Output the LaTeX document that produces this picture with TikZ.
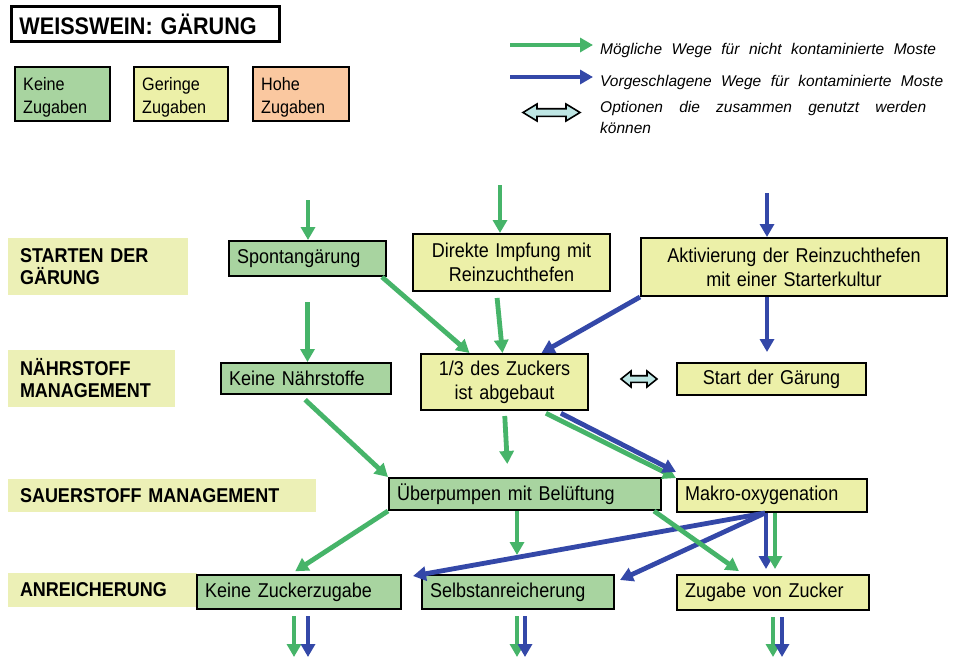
\documentclass[tikz,border=0pt]{standalone}
\usepackage{fontspec}
\setmainfont{Liberation Sans}
\newfontfamily\nfam[FakeStretch=0.9]{Liberation Sans}
\usetikzlibrary{arrows.meta}
\definecolor{arrG}{RGB}{70,180,105}
\definecolor{arrB}{RGB}{52,72,168}
\definecolor{boxG}{RGB}{168,212,160}
\definecolor{boxY}{RGB}{236,240,168}
\definecolor{labY}{RGB}{236,240,182}
\definecolor{boxP}{RGB}{250,200,160}
\definecolor{dblfill}{RGB}{190,230,228}
\newcommand\nfont{\nfam\fontsize{20}{24}\selectfont}
\newcommand\lfont{\nfam\fontsize{20}{22}\selectfont\bfseries}
\newcommand\legfont{\fontsize{15.5}{21}\selectfont\itshape\spaceskip=9.5pt plus 2pt}
\newcommand\up{\rule{0pt}{19pt}}
\tikzset{
  nbox/.style={draw=black, line width=2.4pt, inner xsep=8pt, inner ysep=0pt, font=\nfont, align=left},
  gbox/.style={nbox, fill=boxG},
  ybox/.style={nbox, fill=boxY},
  legbox/.style={draw=black, line width=2.4pt, inner xsep=8pt, inner ysep=0pt, align=left,
    font=\nfam\fontsize{18}{23}\selectfont, minimum height=53.6pt},
  lab/.style={fill=labY, inner xsep=12pt, inner ysep=0pt, font=\lfont, align=left},
  ga/.style={draw=arrG, line width=4.8pt, -{Triangle[width=14pt,length=13pt]}},
  ba/.style={draw=arrB, line width=4.8pt, -{Triangle[width=14pt,length=13pt]}},
  legt/.style={font=\legfont, inner sep=0pt},
  pics/dblarr/.style n args={4}{code={
    \draw[line width=1.6pt, fill=dblfill, line join=miter]
      (-#1,0) -- (-#1+#2,-#3) -- (-#1+#2,-#4) -- (#1-#2,-#4) -- (#1-#2,-#3) -- (#1,0)
      -- (#1-#2,#3) -- (#1-#2,#4) -- (-#1+#2,#4) -- (-#1+#2,#3) -- cycle;}}
}
\begin{document}
\begin{tikzpicture}[x=1pt,y=-1pt]
\fill[white] (0,0) rectangle (960,659);
\useasboundingbox (0,0) rectangle (960,659);

% title and legend
\node[draw=black, line width=3pt, inner xsep=8pt, inner ysep=0pt, text width=252pt, minimum height=35pt,
  font=\nfam\fontsize{24}{26}\selectfont\bfseries, align=left] (title) at (145.5,24) {WEISSWEIN: GÄRUNG};
\node[legbox, fill=boxG, text width=78.6pt] (lk) at (62.5,94) {\up Keine\\Zugaben};
\node[legbox, fill=boxY, text width=77.6pt] (lg) at (181,94) {\up Geringe\\Zugaben};
\node[legbox, fill=boxP, text width=79.6pt] (lh) at (301,94) {\up Hohe\\Zugaben};

\coordinate (lga) at (510,45); \coordinate (lgb) at (593,45);
\coordinate (lba) at (510,77); \coordinate (lbb) at (593,77);
\draw[ga] (lga) -- (lgb);
\draw[ba] (lba) -- (lbb);
\pic at (551.5,112.5) {dblarr={28.5}{14}{8.5}{3.8}};
\node[legt, anchor=base west] (lt1) at (600,54) {Mögliche Wege für nicht kontaminierte Moste};
\node[legt, anchor=base west] (lt2) at (600,86) {Vorgeschlagene Wege für kontaminierte Moste};
\node[legt, anchor=west, text width=326pt, align=justify] (lt3) at (600,117)
  {Optionen die zusammen genutzt werden\linebreak können};

% row labels
\node[lab, text width=156pt, minimum height=57pt] (l1) at (98,266.5) {STARTEN DER\\GÄRUNG};
\node[lab, text width=143pt, minimum height=57pt] (l2) at (91.5,378.5) {NÄHRSTOFF\\MANAGEMENT};
\node[lab, text width=284pt, minimum height=33pt] (l3) at (162,495.5) {SAUERSTOFF MANAGEMENT};
\node[lab, text width=165pt, minimum height=34pt] (l4) at (102.5,590) {ANREICHERUNG};

% nodes
\node[gbox, text width=140.6pt, minimum height=34.6pt] (spont) at (307.5,258.5) {Spontangärung};
\node[ybox, text width=180.6pt, minimum height=56.6pt, align=center] (direkt) at (511.5,262.5) {Direkte Impfung mit\\Reinzuchthefen};
\node[ybox, text width=289.6pt, minimum height=57.6pt, align=center] (aktiv) at (794,267) {Aktivierung der Reinzuchthefen\\mit einer Starterkultur};
\node[gbox, text width=153.6pt, minimum height=30.6pt] (nae) at (306,378.5) {Keine Nährstoffe};
\node[ybox, text width=150.6pt, minimum height=55.6pt, align=center] (drittel) at (504.5,382) {1/3 des Zuckers\\ist abgebaut};
\node[ybox, text width=172.6pt, minimum height=31.6pt, align=center] (start) at (771.5,379) {Start der Gärung};
\node[gbox, text width=255.6pt, minimum height=31.6pt] (ueber) at (525,494) {Überpumpen mit Belüftung};
\node[ybox, text width=173.6pt, minimum height=32.6pt] (makro) at (772,495.5) {Makro-oxygenation};
\node[gbox, text width=187.6pt, minimum height=33.6pt] (keinez) at (299,592) {Keine Zuckerzugabe};
\node[gbox, text width=175.6pt, minimum height=33.6pt] (selbst) at (518,592) {Selbstanreicherung};
\node[ybox, text width=175.6pt, minimum height=34.6pt] (zugabe) at (773,592.5) {Zugabe von Zucker};

\pic at (639,379) {dblarr={18}{10}{8}{3.3}};

% entry arrows
\coordinate (gin1) at (308,200);
\coordinate (gin2) at (500,185);
\coordinate (bin1) at (767,193);
\draw[ga] (gin1) -- (gin1 |- spont.north);
\draw[ga] (gin2) -- (gin2 |- direkt.north);
\draw[ba] (bin1) -- (bin1 |- aktiv.north);

% start -> nutrient
\draw[ga, shorten <=25pt] (spont.south) -- (spont.south |- nae.north);
\draw[ga] ([xshift=-5pt]spont.south east) -- ([xshift=-35pt]drittel.north);
\draw[ga, shorten <=6pt] ([xshift=-15pt]direkt.south) -- ([xshift=-2pt]drittel.north);
\draw[ba] (aktiv.south west) -- ([xshift=37pt]drittel.north);
\draw[ba, shorten >=10pt] ([xshift=-27pt]aktiv.south) -- ([xshift=-27pt]aktiv.south |- start.north);

% nutrient -> oxygen
\draw[ga, shorten <=7pt] ([xshift=-6pt]nae.south) -- (ueber.north west);
\draw[ga, shorten <=5pt, shorten >=13pt] (drittel.south) -- ([xshift=-17pt]ueber.north);
\draw[ga, shorten <=5pt] ([xshift=37pt]drittel.south) -- (makro.north west);
\draw[ba, shorten <=5pt] ([xshift=52pt]drittel.south) -- ([yshift=6pt]makro.north west);

% oxygen -> enrichment
\draw[ga, shorten >=5pt] (ueber.south west) -- ([xshift=-8pt]keinez.north);
\draw[ga, shorten >=19pt] ([xshift=-8pt]ueber.south) -- ([xshift=-8pt]ueber.south |- selbst.north);
\draw[ba] ([xshift=-7pt]makro.south) -- ([xshift=11pt,yshift=-2pt]keinez.north east);
\draw[ba] ([xshift=-7pt]makro.south) -- ([xshift=5pt,yshift=12pt]selbst.east);
\draw[ga, shorten >=5pt] ([xshift=-8pt]ueber.south east) -- ([xshift=-30pt]zugabe.north);
\draw[ba, shorten >=5pt] ([xshift=-6pt]makro.south) -- ([xshift=-6pt]makro.south |- zugabe.north);
\draw[ga, shorten >=5pt] ([xshift=3pt]makro.south) -- ([xshift=3pt]makro.south |- zugabe.north);

% outgoing arrows
\coordinate (o1g) at (294,657); \coordinate (o1b) at (308,657);
\coordinate (o2g) at (517,657); \coordinate (o2b) at (525,657);
\coordinate (o3g) at (773,657); \coordinate (o3b) at (782,657);
\draw[ga, shorten <=6pt] (o1g |- keinez.south) -- (o1g);
\draw[ba, shorten <=6pt] (o1b |- keinez.south) -- (o1b);
\draw[ga, shorten <=6pt] (o2g |- selbst.south) -- (o2g);
\draw[ba, shorten <=6pt] (o2b |- selbst.south) -- (o2b);
\draw[ga, shorten <=6pt] (o3g |- zugabe.south) -- (o3g);
\draw[ba, shorten <=6pt] (o3b |- zugabe.south) -- (o3b);
\end{tikzpicture}
\end{document}
